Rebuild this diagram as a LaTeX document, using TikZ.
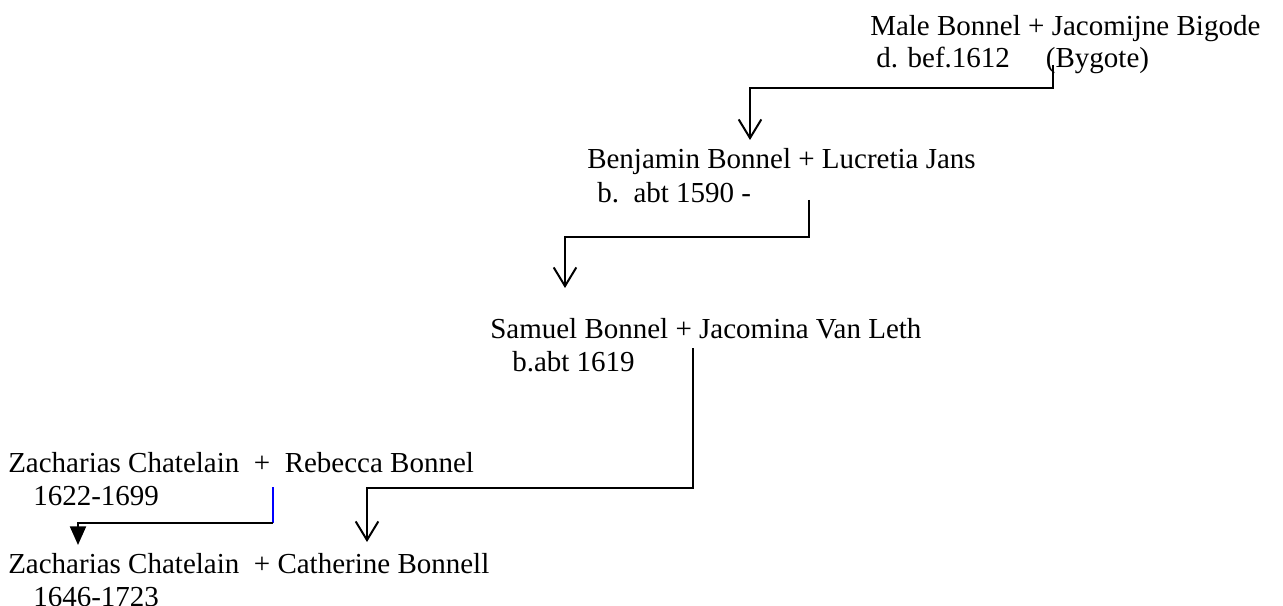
\documentclass[tikz,border=0pt]{standalone}
\usepackage{fontspec}
\setmainfont{Liberation Serif}
\usetikzlibrary{arrows.meta}
\begin{document}
\begin{tikzpicture}[x=0.75pt,y=-0.75pt,
  person/.style={anchor=base west,inner sep=0pt,font=\fontsize{21.75}{24}\selectfont},
  link/.style={draw=#1,line width=1.5pt},
  kid/.style={link=black,-{Straight Barb[length=14pt,width=17pt,line width=1.5pt]}}]
\useasboundingbox (0,0) rectangle (1283,606);
\node[person] (male) at (870,36) {Male Bonnel + Jacomijne Bigode};
\node[person] (maled) at (876,68) {d. bef.1612\hspace{27pt}(Bygote)};
\node[person] (benj) at (587,169) {Benjamin Bonnel + Lucretia Jans};
\node[person] (benjd) at (597,203) {b.\ \ abt 1590 -};
\node[person] (sam) at (490,339) {Samuel Bonnel + Jacomina Van Leth};
\node[person] (samd) at (512,372) {b.abt 1619};
\node[person] (zach) at (8,472) {Zacharias Chatelain\ \ +\ \ Rebecca Bonnel};
\node[person] (zachd) at (33,505) {1622-1699};
\node[person] (cath) at (8,573) {Zacharias Chatelain\ \ + Catherine Bonnell};
\node[person] (cathd) at (33,606) {1646-1723};
% lines of descent
\coordinate (m1) at (1053,65);
\coordinate (b0) at (750,140);
\draw[kid] (m1) -- ++(0,23) -| (b0);
\coordinate (b1) at (809,200);
\coordinate (s0) at (565,288);
\draw[kid] (b1) -- ++(0,37) -| (s0);
\coordinate (s1) at (693,348);
\coordinate (c0) at (367,542);
\draw[kid] (s1) -- ++(0,140) -| (c0);
\coordinate (r1) at (273,487);
\coordinate (r2) at (273,523);
\coordinate (z0) at (78,545);
\draw[link=blue] (r1) -- (r2);
\draw[link=black,-{Triangle[length=14pt,width=12pt]}] (r2) -| (z0);
\end{tikzpicture}
\end{document}
